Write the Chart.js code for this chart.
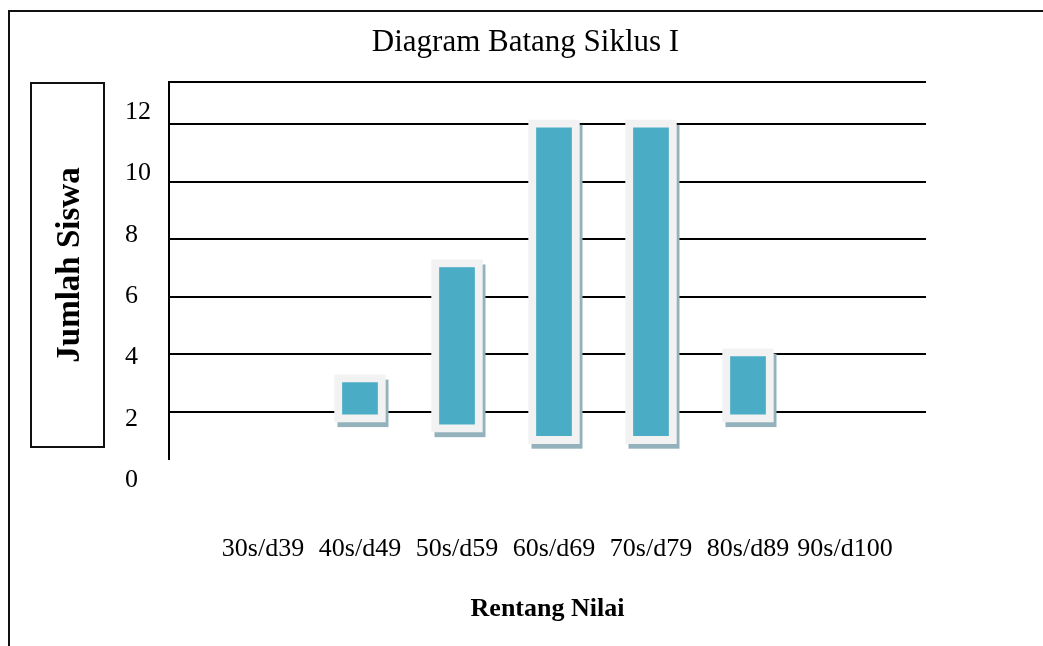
<!DOCTYPE html>
<html>
<head>
<meta charset="utf-8">
<script src="https://cdn.jsdelivr.net/npm/chart.js@4"></script>
<style>
  html, body { margin: 0; padding: 0; background: #fff; overflow: hidden; }
  #wrap { position: relative; width: 1043px; height: 646px; }
  #frame { position: absolute; left: 8px; top: 10px; width: 1100px; height: 700px; border: 2px solid #111; pointer-events: none; }
  #ybox { position: absolute; left: 30px; top: 82px; width: 71px; height: 362px; border: 2px solid #111; pointer-events: none; }
  #ybox span { position: absolute; left: 50%; top: 50%; transform: translate(-50%, -50%) rotate(-90deg); white-space: nowrap;
    font: bold 33px "Liberation Serif", "Times New Roman", serif; color: #000; }
</style>
</head>
<body>
<div id="wrap">
  <canvas id="chart" width="1043" height="646"></canvas>
  <div id="frame"></div>
  <div id="ybox"><span>Jumlah Siswa</span></div>
</div>
<script>
// categories and bar extents (floating bars as rendered in the original)
const categories = ['30s/d39', '40s/d49', '50s/d59', '60s/d69', '70s/d79', '80s/d89', '90s/d100'];
const barTop  = [null, 3.3, 7.3, 12.15, 12.15, 4.2, null];
const barBase = [null, 1.65, 1.3, 0.9, 0.9, 1.65, null];
const yTickLabels = [0, 2, 4, 6, 8, 10, 12];
const gridValues = [2, 4, 6, 8, 10, 12];

const serif = '"Liberation Serif", "Times New Roman", serif';
Chart.defaults.font.family = serif;
Chart.defaults.color = '#000';

// shadow behind each bar
const barShadow = {
  id: 'barShadow',
  beforeDatasetsDraw(chart) {
    const ctx = chart.ctx;
    const meta = chart.getDatasetMeta(0);
    ctx.save();
    ctx.fillStyle = '#93B2BC';
    meta.data.forEach((el, i) => {
      if (barTop[i] === null) return;
      const p = el.getProps(['x', 'y', 'base', 'width'], true);
      ctx.fillRect(p.x - p.width / 2 + 3, Math.min(p.y, p.base) + 5, p.width, Math.abs(p.base - p.y));
    });
    ctx.restore();
  }
};

const ctx = document.getElementById('chart').getContext('2d');
new Chart(ctx, {
  type: 'bar',
  data: {
    datasets: [{
      data: categories.map((c, i) => ({ x: i, y: barTop[i] === null ? null : [barBase[i], barTop[i]] })),
      backgroundColor: '#4BACC6',
      borderColor: '#F2F2F2',
      borderWidth: 8,
      borderSkipped: false,
      barThickness: 51
    }]
  },
  options: {
    responsive: false,
    animation: false,
    layout: { padding: { left: 125, right: 117, top: 0, bottom: 0 } },
    plugins: {
      legend: { display: false },
      tooltip: { enabled: false },
      title: {
        display: true,
        text: 'Diagram Batang Siklus I',
        font: { size: 31, weight: 'normal' },
        color: '#000',
        padding: { top: 24, bottom: 21 }
      }
    },
    scales: {
      x: {
        type: 'linear',
        offset: false,
        min: -0.969,
        max: 6.835,
        afterBuildTicks: s => { s.ticks = categories.map((c, i) => ({ value: i })); },
        grid: { display: false },
        border: { display: false },
        ticks: {
          font: { size: 26 },
          padding: 67,
          maxRotation: 0,
          autoSkip: false,
          callback: v => categories[v]
        },
        title: {
          display: true,
          text: 'Rentang Nilai',
          font: { size: 26, weight: 'bold' },
          padding: { top: 0, bottom: 21 }
        },
        afterFit: s => { s.height = 187; }
      },
      y: {
        position: 'left',
        weight: 0,
        min: 0.368,
        max: 13.458,
        afterBuildTicks: s => { s.ticks = gridValues.concat([13.458]).map(v => ({ value: v })); },
        grid: { color: '#000', lineWidth: 2, drawTicks: false },
        border: { display: true, color: '#000', width: 2 },
        ticks: { display: false },
        afterFit: s => { s.width = 0; }
      },
      yLabels: {
        position: 'left',
        weight: 1,
        min: 0,
        max: 12.293,
        afterBuildTicks: s => { s.ticks = yTickLabels.map(v => ({ value: v })); },
        grid: { display: false, drawTicks: false },
        border: { display: false },
        ticks: { font: { size: 26 }, crossAlign: 'far', labelOffset: 21, padding: 0 },
        afterFit: s => { s.width = 44; }
      }
    }
  },
  plugins: [barShadow]
});
</script>
</body>
</html>
